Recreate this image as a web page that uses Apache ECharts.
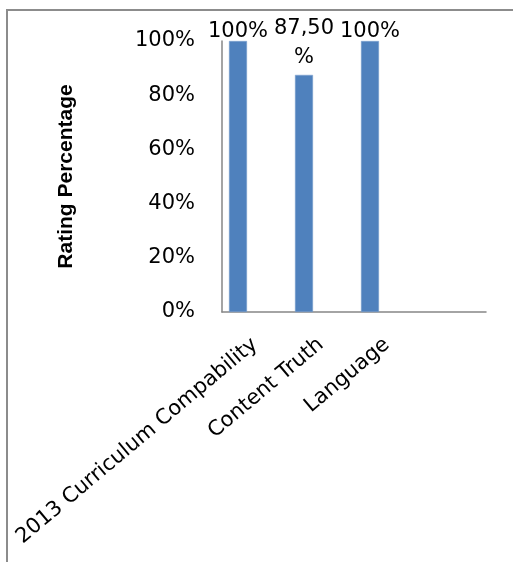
<!DOCTYPE html>
<html>
<head>
<meta charset="utf-8">
<script src="https://cdn.jsdelivr.net/npm/echarts@6/dist/echarts.min.js"></script>
<style>html,body{margin:0;padding:0;background:#fff}#c{width:513px;height:562px}</style>
</head>
<body>
<div id="c"></div>
<script>
const categories = ['2013 Curriculum Compability', 'Content Truth', 'Language', ''];
const ratingValues = [1.0, 0.875, 1.0, null];
const emptySeries = [null, null, null, null];
const valueLabels = ['100%', '87,50\n%', '100%', ''];
const yTicks = [0, 0.2, 0.4, 0.6, 0.8, 1.0];
const yTickLabels = ['0%', '20%', '40%', '60%', '80%', '100%'];
const yAxisTitle = 'Rating Percentage';

const FONT = 'DejaVu Sans';
const chart = echarts.init(document.getElementById('c'), null, {renderer: 'canvas'});
chart.setOption({
  animation: false,
  backgroundColor: '#fff',
  graphic: [{
    type: 'polyline', silent: true, z: -1,
    shape: {points: [[7, 570], [7, 10], [520, 10]]},
    style: {fill: null, stroke: '#8c8c8c', lineWidth: 2}
  }],
  grid: {left: 222, right: 27, top: 41, bottom: 250},
  xAxis: {
    type: 'category',
    data: categories,
    axisLine: {lineStyle: {color: '#868686', width: 1.5}},
    axisTick: {show: false},
    axisLabel: {rotate: 40, margin: 30, interval: 0, color: '#000', fontFamily: FONT, fontSize: 21}
  },
  yAxis: {
    type: 'value', min: 0, max: 1, interval: 0.2,
    name: yAxisTitle, nameLocation: 'middle', nameRotate: 90, nameGap: 145,
    nameTextStyle: {fontFamily: 'Liberation Sans', fontWeight: 'bold', fontSize: 21, color: '#000'},
    axisLine: {show: true, lineStyle: {color: '#868686', width: 1.5}},
    axisTick: {show: false},
    splitLine: {show: false},
    axisLabel: {
      margin: 27, color: '#000', fontFamily: FONT, fontSize: 21,
      formatter: v => { const i = yTicks.findIndex(t => Math.abs(t - v) < 1e-9); return i >= 0 ? yTickLabels[i] : ''; }
    }
  },
  series: [{
    type: 'bar',
    data: ratingValues.map((v, i) => ({
      value: v,
      label: valueLabels[i].indexOf('\n') >= 0 ? {lineHeight: 29} : {}
    })),
    barWidth: 18,
    barGap: '89%',
    itemStyle: {color: '#4F81BD', borderColor: '#7FA3D1', borderWidth: 0.5},
    label: {
      show: true, position: 'top', distance: 3, lineHeight: 12,
      color: '#000', fontFamily: FONT, fontSize: 21,
      formatter: p => valueLabels[p.dataIndex]
    }
  }, {
    type: 'bar',
    data: emptySeries,
    barWidth: 18,
    itemStyle: {color: '#C0504D'}
  }]
});
</script>
</body>
</html>
